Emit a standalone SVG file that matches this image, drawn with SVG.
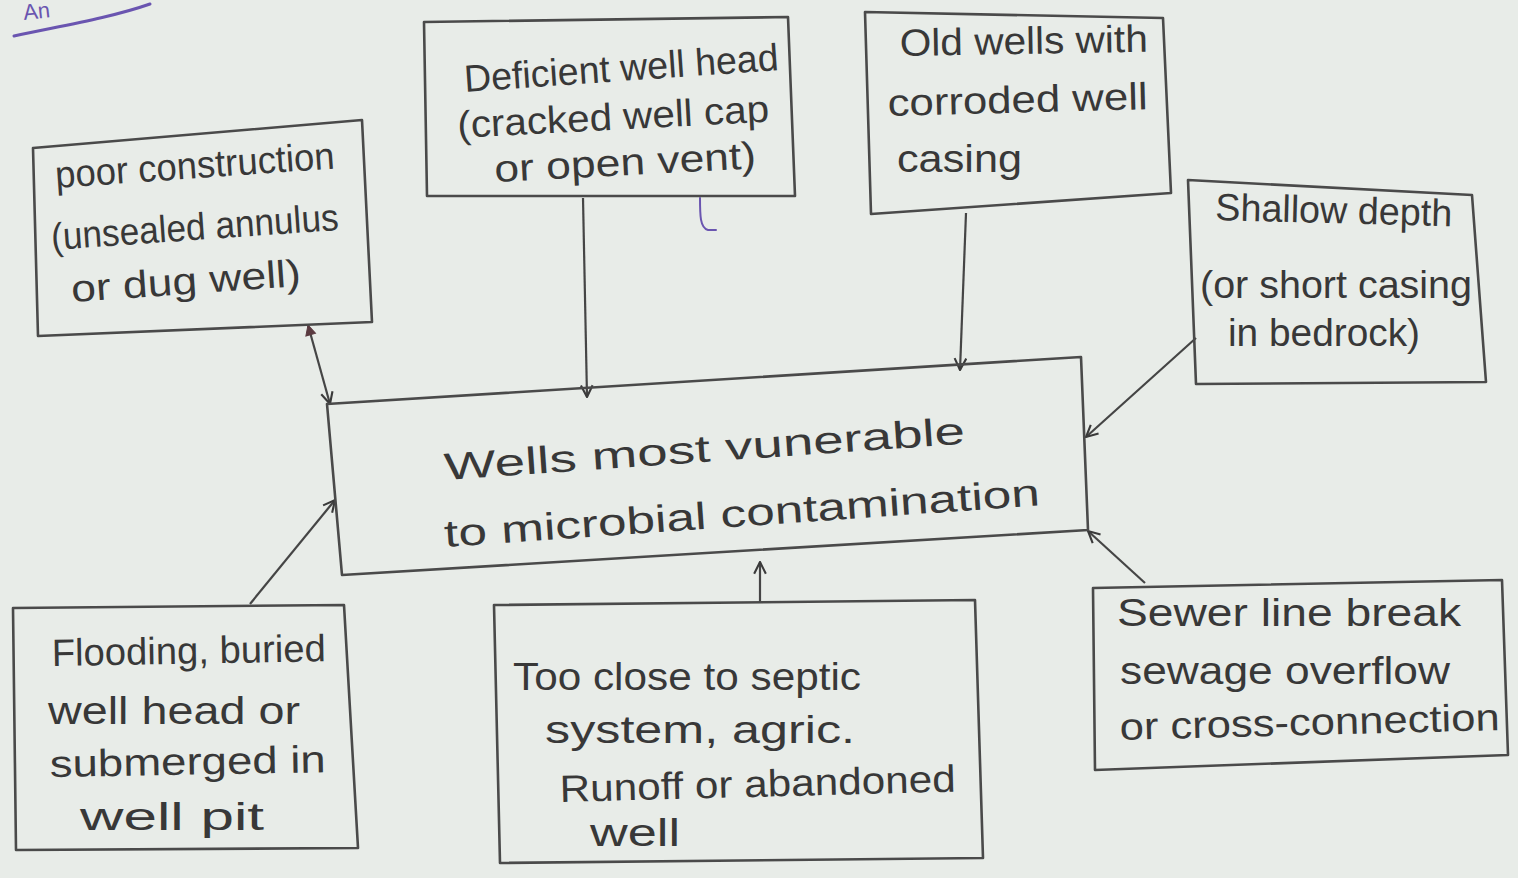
<svg xmlns="http://www.w3.org/2000/svg" width="1518" height="878" viewBox="0 0 1518 878">
<style>
.box{fill:none;stroke:#4a4a4a;stroke-width:2.6;stroke-linejoin:round}
.t{font-family:"Liberation Sans","DejaVu Sans",sans-serif;font-size:38px;fill:#383838}
.c{fill:none;stroke:#454545;stroke-width:2.2}
</style>
<defs>
<marker id="ah" viewBox="0 0 12 12" refX="11" refY="6" markerWidth="14" markerHeight="14" markerUnits="userSpaceOnUse" orient="auto">
<path d="M1,1 L11,6 L1,11" fill="none" stroke="#3a3a3a" stroke-width="1.8"/>
</marker>
<marker id="as" viewBox="0 0 12 12" refX="11" refY="6" markerWidth="12" markerHeight="12" markerUnits="userSpaceOnUse" orient="auto-start-reverse">
<path d="M1,1 L11,6 L1,11 Z" fill="#5a3a40" stroke="#5a3a40" stroke-width="1"/>
</marker>
</defs>
<rect width="1518" height="878" fill="#e8ece8"/>

<g id="annotation" fill="none" stroke="#6a55b0" stroke-width="3" stroke-linecap="round">
<text x="24" y="20" font-family="Liberation Sans,sans-serif" font-size="22" fill="#6a55b0" stroke="none" transform="rotate(-6 24 20)">An</text>
<path d="M14,36 C60,26 110,18 150,4"/>
<path d="M700,198 C700,215 700,228 708,230 L716,230" stroke-width="2"/>
</g>

<g id="connectors">
<line class="c" x1="308" y1="325" x2="330" y2="404" marker-end="url(#ah)" marker-start="url(#as)"/>
<line class="c" x1="583" y1="198" x2="587" y2="397" marker-end="url(#ah)"/>
<line class="c" x1="966" y1="213" x2="960" y2="370" marker-end="url(#ah)"/>
<line class="c" x1="1196" y1="338" x2="1086" y2="437" marker-end="url(#ah)"/>
<line class="c" x1="250" y1="604" x2="335" y2="500" marker-end="url(#ah)"/>
<line class="c" x1="760" y1="603" x2="760" y2="562" marker-end="url(#ah)"/>
<line class="c" x1="1145" y1="583" x2="1088" y2="531" marker-end="url(#ah)"/>
</g>

<g id="n-poor">
<polygon class="box" points="33,148 362,120 372,322 38,336"/>
<text class="t" x="56" y="188" font-size="34" textLength="280" lengthAdjust="spacingAndGlyphs" transform="rotate(-4 56 188)">poor construction</text>
<text class="t" x="52" y="250" font-size="34" textLength="288" lengthAdjust="spacingAndGlyphs" transform="rotate(-4 52 250)">(unsealed annulus</text>
<text class="t" x="72" y="302" font-size="36" textLength="230" lengthAdjust="spacingAndGlyphs" transform="rotate(-4 72 302)">or dug well)</text>
</g>

<g id="n-deficient">
<polygon class="box" points="424,22 788,17 795,196 427,196"/>
<text class="t" x="465" y="92" font-size="36" textLength="315" lengthAdjust="spacingAndGlyphs" transform="rotate(-4 465 92)">Deficient well head</text>
<text class="t" x="458" y="138" font-size="36" textLength="312" lengthAdjust="spacingAndGlyphs" transform="rotate(-3 458 138)">(cracked well cap</text>
<text class="t" x="495" y="182" font-size="36" textLength="262" lengthAdjust="spacingAndGlyphs" transform="rotate(-3 495 182)">or open vent)</text>
</g>

<g id="n-old">
<polygon class="box" points="865,12 1163,18 1171,193 871,214"/>
<text class="t" x="900" y="56" textLength="248" lengthAdjust="spacingAndGlyphs" transform="rotate(-1 900 56)">Old wells with</text>
<text class="t" x="888" y="116" textLength="260" lengthAdjust="spacingAndGlyphs" transform="rotate(-1.5 888 116)">corroded well</text>
<text class="t" x="897" y="172" textLength="125" lengthAdjust="spacingAndGlyphs">casing</text>
</g>

<g id="n-shallow">
<polygon class="box" points="1188,180 1472,195 1486,382 1196,384"/>
<text class="t" x="1215" y="220" font-size="36" textLength="237" lengthAdjust="spacingAndGlyphs" transform="rotate(1.5 1215 220)">Shallow depth</text>
<text class="t" x="1200" y="298" font-size="36" textLength="272" lengthAdjust="spacingAndGlyphs">(or short casing</text>
<text class="t" x="1228" y="346" font-size="36" textLength="192" lengthAdjust="spacingAndGlyphs">in bedrock)</text>
</g>

<g id="n-center">
<polygon class="box" points="327,404 1081,357 1088,530 342,575"/>
<text class="t" x="445" y="480" font-size="44" textLength="522" lengthAdjust="spacingAndGlyphs" transform="rotate(-4 445 480)">Wells most vunerable</text>
<text class="t" x="445" y="547" font-size="44" textLength="597" lengthAdjust="spacingAndGlyphs" transform="rotate(-4 445 547)">to microbial contamination</text>
</g>

<g id="n-flooding">
<polygon class="box" points="13,608 344,605 358,848 16,850"/>
<text class="t" x="52" y="666" textLength="274" lengthAdjust="spacingAndGlyphs" transform="rotate(-1 52 666)">Flooding, buried</text>
<text class="t" x="48" y="724" textLength="252" lengthAdjust="spacingAndGlyphs">well head or</text>
<text class="t" x="50" y="777" textLength="276" lengthAdjust="spacingAndGlyphs" transform="rotate(-1 50 777)">submerged in</text>
<text class="t" x="80" y="830" textLength="184" lengthAdjust="spacingAndGlyphs">well pit</text>
</g>

<g id="n-close">
<polygon class="box" points="494,605 975,600 983,858 500,863"/>
<text class="t" x="513" y="690" textLength="348" lengthAdjust="spacingAndGlyphs">Too close to septic</text>
<text class="t" x="545" y="743" textLength="310" lengthAdjust="spacingAndGlyphs">system, agric.</text>
<text class="t" x="560" y="802" textLength="396" lengthAdjust="spacingAndGlyphs" transform="rotate(-1.5 560 802)">Runoff or abandoned</text>
<text class="t" x="590" y="846" textLength="90" lengthAdjust="spacingAndGlyphs">well</text>
</g>

<g id="n-sewer">
<polygon class="box" points="1093,588 1502,580 1508,755 1095,770"/>
<text class="t" x="1117" y="626" textLength="344" lengthAdjust="spacingAndGlyphs">Sewer line break</text>
<text class="t" x="1120" y="684" textLength="330" lengthAdjust="spacingAndGlyphs">sewage overflow</text>
<text class="t" x="1120" y="740" textLength="380" lengthAdjust="spacingAndGlyphs" transform="rotate(-1.5 1120 740)">or cross-connection</text>
</g>
</svg>
